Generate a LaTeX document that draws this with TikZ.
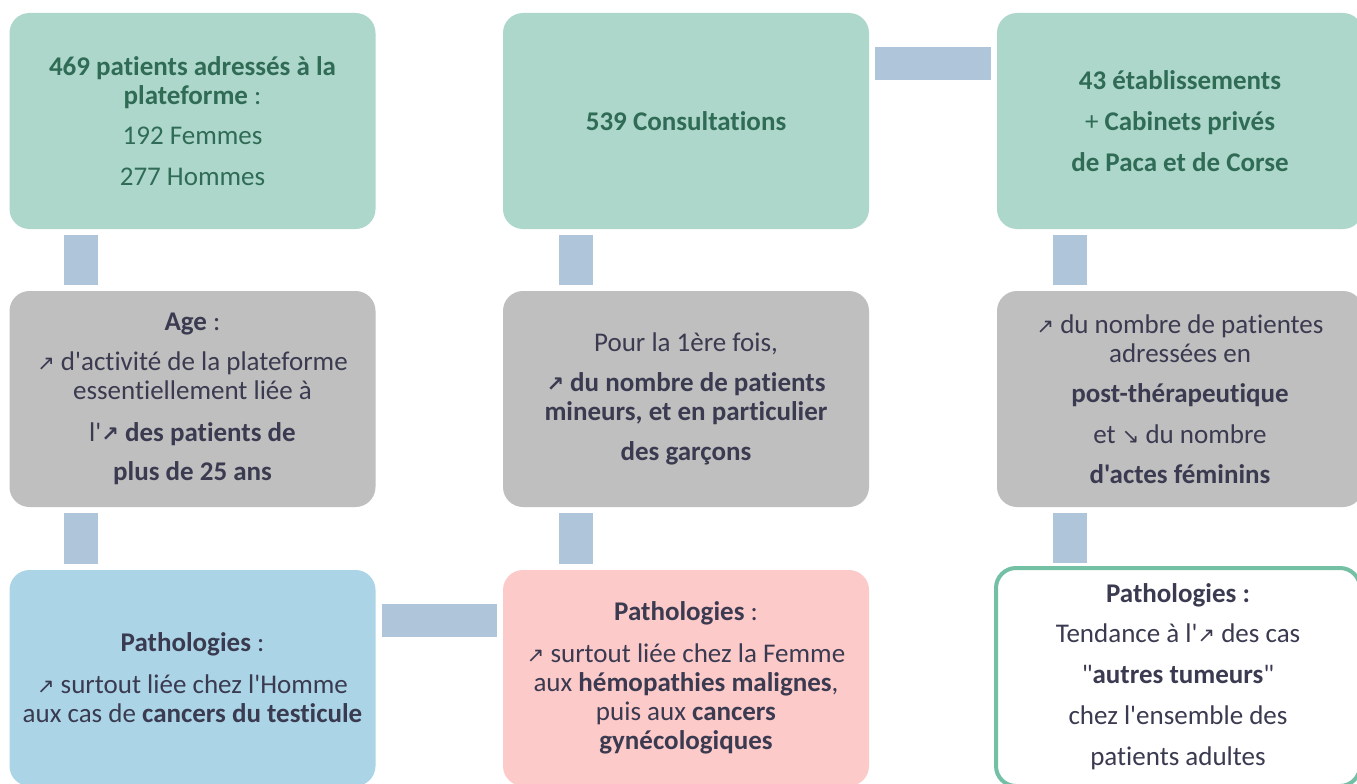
\documentclass[tikz,border=0pt]{standalone}
\usepackage{fontspec}
\setmainfont{Carlito}[Ligatures={TeXOff,NoCommon}]
\newfontfamily\arrowfont{DejaVu Sans}
\usetikzlibrary{calc}
\definecolor{greenfill}{HTML}{ADD7CB}
\definecolor{greentext}{HTML}{2F6B55}
\definecolor{grayfill}{HTML}{BFBFBF}
\definecolor{darktext}{HTML}{3A3A50}
\definecolor{bluefill}{HTML}{ABD5E6}
\definecolor{pinkfill}{HTML}{FDCACA}
\definecolor{barcol}{HTML}{AFC6DA}
\definecolor{bordercol}{HTML}{74C0A5}
\newcommand{\uparr}{{\arrowfont\fontsize{21}{21}\selectfont ↗}}
\newcommand{\downarr}{{\arrowfont\fontsize{21}{21}\selectfont ↘}}
\begin{document}
\begin{tikzpicture}[x=1pt,y=-1pt,
  box/.style={rectangle, rounded corners=20pt, minimum width=366pt, minimum height=216pt,
    align=center, inner sep=0pt, font=\fontsize{27}{29}\selectfont},
  greenbox/.style={box, fill=greenfill, text=greentext},
  graybox/.style={box, fill=grayfill, text=darktext},
  bluebox/.style={box, fill=bluefill, text=darktext},
  pinkbox/.style={box, fill=pinkfill, text=darktext},
  whitebox/.style={box, fill=white, draw=bordercol, line width=4pt, text=darktext, minimum width=364pt, minimum height=218pt},
  vbar/.style={draw=barcol, line width=34pt, shorten >=6pt, shorten <=6pt},
  hbar/.style={draw=barcol, line width=33pt, shorten >=6pt, shorten <=6pt}]
\useasboundingbox (0,0) rectangle (1357,784);
\clip (0,0) rectangle (1357,784);
\fill[white] (0,0) rectangle (1357,784);

\node[greenbox] (b1) at (192.5,121) {\textbf{469 patients adressés à la}\\\textbf{plateforme} :\\[11pt]192 Femmes\\[12pt]277 Hommes};
\node[greenbox] (b2) at (686,121) {\textbf{539 Consultations}};
\node[greenbox] (b3) at (1180,121) {\textbf{43 établissements}\\[12pt]+ \textbf{Cabinets privés}\\[12pt]\textbf{de Paca et de Corse}};

\node[graybox] (b4) at (192.5,399) {\textbf{Age} :\\[11pt]\uparr{} d'activité de la plateforme\\essentiellement liée à\\[13pt]l'{\bfseries\uparr\ des patients de}\\[10pt]\textbf{plus de 25 ans}};
\node[graybox] (b5) at (686,399) {Pour la 1ère fois,\\[11pt]{\bfseries\uparr\ du nombre de patients}\\\textbf{mineurs, et en particulier}\\[11pt]\textbf{des garçons}};
\node[graybox] (b6) at (1180,399) {\uparr{} du nombre de patientes\\adressées en\\[11pt]\textbf{post-thérapeutique}\\[12pt]et \downarr{} du nombre\\[11pt]\textbf{d'actes féminins}};

\node[bluebox] (b7) at (192.5,678) {\textbf{Pathologies} :\\[13pt]\uparr{} surtout liée chez l'Homme\\aux cas de \textbf{cancers du testicule}};
\node[pinkbox] (b8) at (686,678) {\textbf{Pathologies} :\\[13pt]\uparr{} surtout liée chez la Femme\\aux \textbf{hémopathies malignes},\\puis aux \textbf{cancers}\\\textbf{gynécologiques}};
\node[whitebox] (b9) at (1178,677) {\textbf{Pathologies :}\\[11pt]Tendance à l'\uparr{} des cas\\[12pt]"\textbf{autres tumeurs}"\\[12pt]chez l'ensemble des\\[12pt]patients adultes};

\draw[vbar] ([xshift=72pt]b1.south west) -- ([xshift=72pt]b4.north west);
\draw[vbar] ([xshift=72pt]b4.south west) -- ([xshift=72pt]b7.north west);
\draw[vbar] ([xshift=73pt]b2.south west) -- ([xshift=73pt]b5.north west);
\draw[vbar] ([xshift=73pt]b5.south west) -- ([xshift=73pt]b8.north west);
\draw[vbar] ([xshift=73pt]b3.south west) -- ([xshift=73pt]b6.north west);
\draw[vbar, shorten >=3pt] ([xshift=73pt]b6.south west) -- ([xshift=73pt]b6.south west |- b9.north);
\draw[hbar] ([yshift=-50.5pt]b2.north east) -- ([yshift=-50.5pt]b3.north west);
\draw[hbar] ([yshift=-50.5pt]b7.north east) -- ([yshift=-50.5pt]b8.north west);
\end{tikzpicture}
\end{document}
